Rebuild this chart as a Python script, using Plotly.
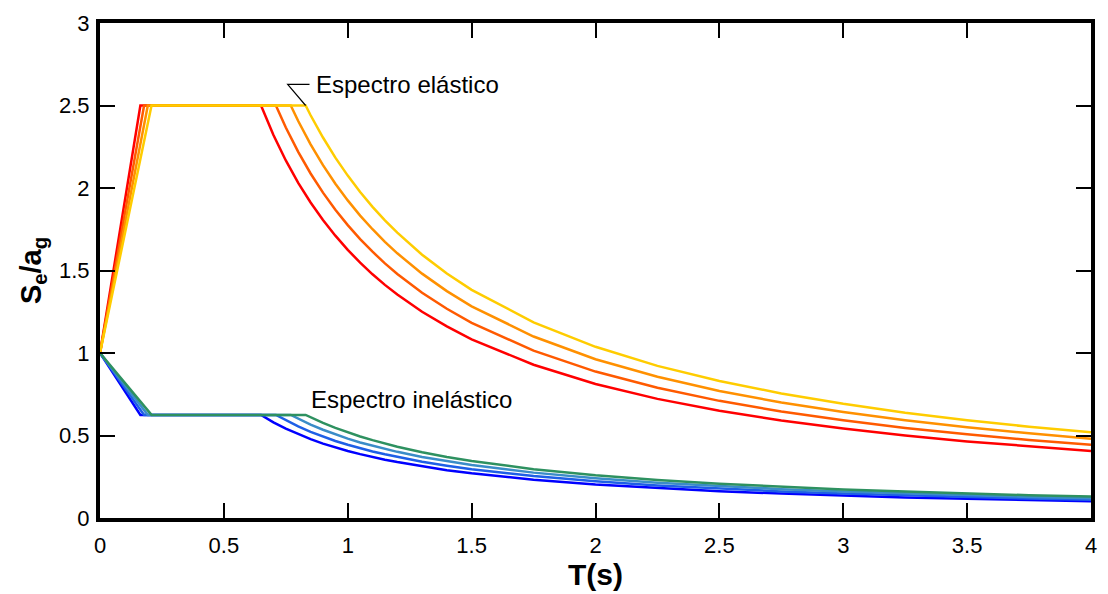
import plotly.graph_objects as go

# ---- Data ----
# Elastic spectra (Se/ag vs T)
el_red_T = [0, 0.163, 0.65, 0.7, 0.75, 0.8, 0.85, 0.9, 0.95, 1.0, 1.05, 1.1, 1.15, 1.2, 1.3, 1.4, 1.5, 1.75, 2.0, 2.25, 2.5, 2.75, 3.0, 3.25, 3.5, 3.75, 4.0]
el_red_S = [1, 2.5, 2.5, 2.321, 2.167, 2.031, 1.912, 1.806, 1.711, 1.625, 1.548, 1.477, 1.413, 1.354, 1.25, 1.161, 1.083, 0.929, 0.8125, 0.722, 0.65, 0.591, 0.542, 0.5, 0.464, 0.433, 0.406]

el_ored_T = [0, 0.178, 0.71, 0.75, 0.8, 0.85, 0.9, 0.95, 1.0, 1.05, 1.1, 1.15, 1.2, 1.3, 1.4, 1.5, 1.75, 2.0, 2.25, 2.5, 2.75, 3.0, 3.25, 3.5, 3.75, 4.0]
el_ored_S = [1, 2.5, 2.5, 2.367, 2.219, 2.088, 1.972, 1.868, 1.775, 1.690, 1.614, 1.543, 1.479, 1.365, 1.268, 1.183, 1.014, 0.8875, 0.789, 0.71, 0.645, 0.592, 0.546, 0.507, 0.473, 0.444]

el_orange_T = [0, 0.193, 0.77, 0.8, 0.85, 0.9, 0.95, 1.0, 1.05, 1.1, 1.15, 1.2, 1.3, 1.4, 1.5, 1.75, 2.0, 2.25, 2.5, 2.75, 3.0, 3.25, 3.5, 3.75, 4.0]
el_orange_S = [1, 2.5, 2.5, 2.406, 2.265, 2.139, 2.026, 1.925, 1.833, 1.75, 1.674, 1.604, 1.481, 1.375, 1.283, 1.1, 0.9625, 0.856, 0.77, 0.7, 0.642, 0.592, 0.55, 0.513, 0.481]

el_yellow_T = [0, 0.208, 0.83, 0.85, 0.9, 0.95, 1.0, 1.05, 1.1, 1.15, 1.2, 1.3, 1.4, 1.5, 1.75, 2.0, 2.25, 2.5, 2.75, 3.0, 3.25, 3.5, 3.75, 4.0]
el_yellow_S = [1, 2.5, 2.5, 2.441, 2.306, 2.184, 2.075, 1.976, 1.886, 1.804, 1.729, 1.596, 1.482, 1.383, 1.186, 1.0375, 0.922, 0.83, 0.755, 0.692, 0.638, 0.593, 0.553, 0.519]

# Inelastic spectra
in_blue_T = [0, 0.163, 0.65, 0.7, 0.75, 0.8, 0.85, 0.9, 0.95, 1.0, 1.05, 1.1, 1.15, 1.2, 1.3, 1.4, 1.5, 1.75, 2.0, 2.25, 2.5, 2.75, 3.0, 3.25, 3.5, 3.75, 4.0]
in_blue_S = [1, 0.625, 0.625, 0.580, 0.542, 0.508, 0.478, 0.451, 0.428, 0.406, 0.387, 0.369, 0.353, 0.339, 0.3125, 0.290, 0.271, 0.232, 0.203, 0.181, 0.1625, 0.148, 0.135, 0.125, 0.116, 0.108, 0.102]

in_mblue_T = [0, 0.178, 0.71, 0.75, 0.8, 0.85, 0.9, 0.95, 1.0, 1.05, 1.1, 1.15, 1.2, 1.3, 1.4, 1.5, 1.75, 2.0, 2.25, 2.5, 2.75, 3.0, 3.25, 3.5, 3.75, 4.0]
in_mblue_S = [1, 0.625, 0.625, 0.592, 0.555, 0.522, 0.493, 0.467, 0.444, 0.423, 0.403, 0.386, 0.370, 0.341, 0.317, 0.296, 0.254, 0.222, 0.197, 0.1775, 0.161, 0.148, 0.137, 0.127, 0.118, 0.111]

in_sblue_T = [0, 0.193, 0.77, 0.8, 0.85, 0.9, 0.95, 1.0, 1.05, 1.1, 1.15, 1.2, 1.3, 1.4, 1.5, 1.75, 2.0, 2.25, 2.5, 2.75, 3.0, 3.25, 3.5, 3.75, 4.0]
in_sblue_S = [1, 0.625, 0.625, 0.602, 0.566, 0.535, 0.507, 0.481, 0.458, 0.4375, 0.418, 0.401, 0.370, 0.344, 0.321, 0.275, 0.241, 0.214, 0.1925, 0.175, 0.160, 0.148, 0.1375, 0.128, 0.120]

in_green_T = [0, 0.208, 0.83, 0.85, 0.9, 0.95, 1.0, 1.05, 1.1, 1.15, 1.2, 1.3, 1.4, 1.5, 1.75, 2.0, 2.25, 2.5, 2.75, 3.0, 3.25, 3.5, 3.75, 4.0]
in_green_S = [1, 0.625, 0.625, 0.610, 0.576, 0.546, 0.519, 0.494, 0.472, 0.451, 0.432, 0.399, 0.370, 0.346, 0.296, 0.259, 0.2305, 0.2075, 0.189, 0.173, 0.160, 0.148, 0.138, 0.130]

x_ticks = [0, 0.5, 1, 1.5, 2, 2.5, 3, 3.5, 4]
x_ticklabels = ["0", "0.5", "1", "1.5", "2", "2.5", "3", "3.5", "4"]
y_ticks = [0, 0.5, 1, 1.5, 2, 2.5, 3]
y_ticklabels = ["0", "0.5", "1", "1.5", "2", "2.5", "3"]

series = [
    (el_red_T, el_red_S, "#FF0000"),
    (el_ored_T, el_ored_S, "#FF5A00"),
    (el_orange_T, el_orange_S, "#FF9000"),
    (el_yellow_T, el_yellow_S, "#FFCC00"),
    (in_blue_T, in_blue_S, "#0000FF"),
    (in_mblue_T, in_mblue_S, "#1E5FE6"),
    (in_sblue_T, in_sblue_S, "#3A8CC8"),
    (in_green_T, in_green_S, "#2E9160"),
]

FONT = "Liberation Sans, Arial, sans-serif"

fig = go.Figure()
for xs, ys, col in series:
    fig.add_trace(go.Scatter(x=xs, y=ys, mode="lines",
                             line=dict(color=col, width=2.5),
                             showlegend=False, hoverinfo="skip"))

axis_common = dict(showline=True, linecolor="black", linewidth=4, mirror="ticks",
                   ticks="inside", ticklen=15, tickwidth=2, tickcolor="black",
                   showgrid=False, zeroline=False,
                   tickfont=dict(family=FONT, size=22, color="black"))

fig.update_layout(
    width=1108, height=594,
    margin=dict(l=100, r=11, t=21, b=76),
    paper_bgcolor="white", plot_bgcolor="white",
    xaxis=dict(range=[0, 4], tickvals=x_ticks, ticktext=x_ticklabels,
               ticklabelstandoff=5,
               title=dict(text="<b>T(s)</b>", font=dict(family=FONT, size=30, color="black"), standoff=0),
               **axis_common),
    yaxis=dict(range=[0, 3], tickvals=y_ticks, ticktext=y_ticklabels,
               ticklabelstandoff=2,
               title=dict(text="<b>S<sub>e</sub>/a<sub>g</sub></b>", font=dict(family=FONT, size=29, color="black"), standoff=10),
               **axis_common),
    annotations=[
        dict(x=0.862, y=2.628, xref="x", yref="y", text="Espectro elástico", showarrow=False,
             xanchor="left", yanchor="middle", font=dict(family=FONT, size=24, color="black")),
        dict(x=0.842, y=0.716, xref="x", yref="y", text="Espectro inelástico", showarrow=False,
             xanchor="left", yanchor="middle", font=dict(family=FONT, size=24, color="black")),
    ],
    shapes=[
        dict(type="path", xref="x", yref="y",
             path="M 0.83,2.5 L 0.7575,2.628 L 0.8457,2.628",
             line=dict(color="black", width=1.2)),
    ],
)

fig.write_html("out.html")
